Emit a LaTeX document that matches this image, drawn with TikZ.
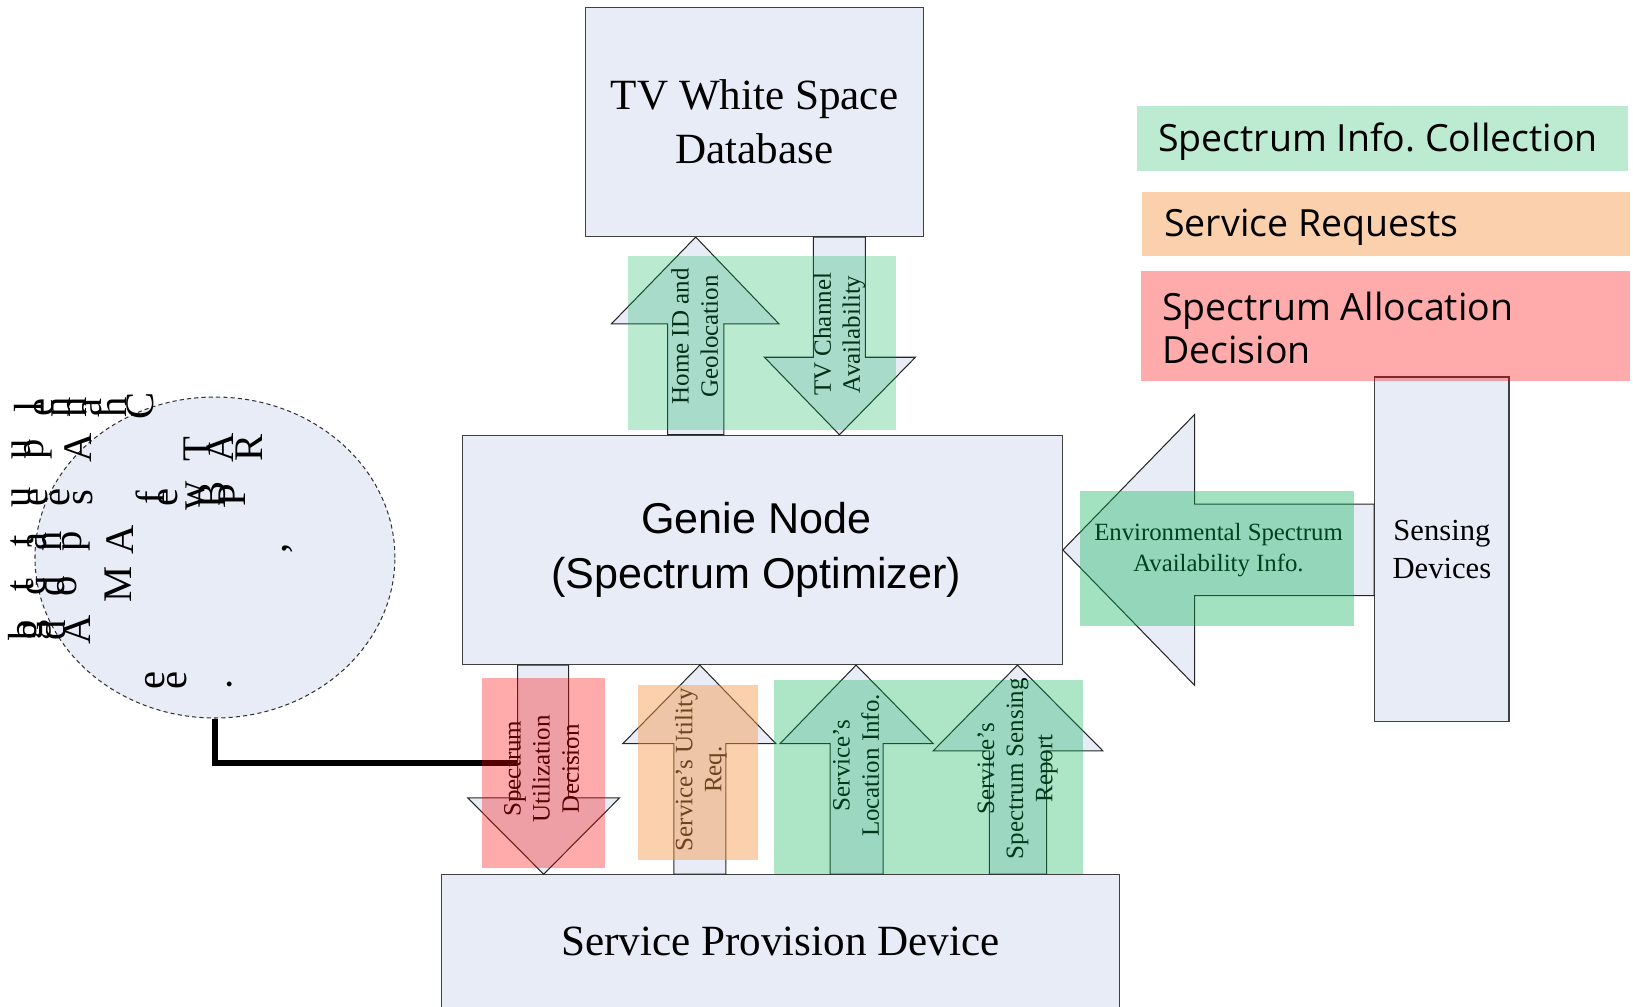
\documentclass[tikz,border=0pt]{standalone}
\usepackage{fontspec}
\setmainfont{Liberation Serif}
\newfontfamily\arialfont{Liberation Sans}
\newfontfamily\legendfont{Open Sans}
\usepackage{tikz}
\usetikzlibrary{shapes.geometric}
\definecolor{boxblue}{RGB}{231,236,247}
\definecolor{infogreen}{RGB}{0,176,80}
\definecolor{reqorange}{RGB}{247,150,70}
\definecolor{allocred}{RGB}{255,0,0}
\tikzstyle{box}=[draw=black!75, line width=0.6pt, fill=boxblue, inner sep=0pt, align=center]
\tikzstyle{blockarrow}=[draw=black!85, line width=0.5pt, fill=boxblue, line join=miter]
\tikzstyle{lbl}=[rotate=90, align=center, inner sep=0pt, font=\fontsize{12}{14}\selectfont]
\tikzstyle{glyph}=[rotate=90, inner sep=0pt, font=\fontsize{19.5}{20}\selectfont]
\tikzstyle{legendbox}=[inner sep=0pt]
\tikzstyle{legendtext}=[anchor=west, inner sep=0pt, align=left, font=\legendfont\frenchspacing\fontsize{18}{20.5}\selectfont]

\begin{document}
\begin{tikzpicture}[x=0.5pt, y=-0.5pt]
\useasboundingbox (0,0) rectangle (1568,966);
%
  \node[box, minimum width=162.5pt, minimum height=110pt, font=\fontsize{20.7}{26}\selectfont] (tvws) at (724.5,117) {TV White Space\\Database};
  \node[box, minimum width=288pt, minimum height=110pt, font=\arialfont\fontsize{20.7}{26}\selectfont] (genie) at (732,528) {Genie Node\hspace*{6pt}\\(Spectrum Optimizer)\hspace*{6pt}};
  \node[box, minimum width=325.5pt, minimum height=64pt, font=\fontsize{20.7}{26}\selectfont] (spd) at (749.5,904) {Service Provision Device};
  \node[box, minimum width=64.5pt, minimum height=165.5pt, font=\fontsize{14.7}{18.5}\selectfont] (sensing) at (1384.5,527.5) {Sensing\\Devices};
%
  \node[ellipse, draw=black!80, line width=0.5pt, dash pattern=on 2pt off 1.5pt, fill=boxblue, minimum width=172.8pt, minimum height=154.1pt, inner sep=0pt] (pref) at (206.4,535.3) {};
  \begin{scope}[scale=0.9602]
    \foreach \gx/\gy/\gc [count=\gi] in {28/407/l, 44/407/e, 61/407/n, 77/407/n, 92/407/a, 112/407/h, 140/406/C,
        21/449/u, 38/449/p, 78/448/A, 197/449/T, 220/448/A, 249/448/R,
        21/497/u, 38/497/e, 60/497/e, 83/498/s, 150/498/f, 168/497/e, 195/496/w, 212/495/B, 232/495/P,
        22/541/t, 37/541/a, 52/541/n, 76/541/p, 120/540/A,
        22/586/t, 36/586/c, 51/586/d, 67/586/o, 118/584/M,
        23/630/b, 36/630/g, 52/630/d, 77/630/A,
        155/680/e, 177/680/e, 230/684/.}
      \node[glyph] (g\gi) at (\gx,\gy) {\gc};
    \node[glyph] (gcomma) at (288,548) {,};
  \end{scope}
%
  \coordinate (sudin) at (497,732.6);
  \draw[line width=2.9pt] (pref.south) |- (sudin);
%
  % database <-> genie
  \draw[blockarrow] (668,0 |- tvws.south) -- (748,311) -- (695,311) -- (695,0 |- genie.north)
    -- (641,0 |- genie.north) -- (641,311) -- (587,311) -- cycle;
  \draw[blockarrow] (781,0 |- tvws.south) -- (831,0 |- tvws.south) -- (831,343) -- (879,343)
    -- (806,0 |- genie.north) -- (734,343) -- (781,343) -- cycle;
  % sensing -> genie
  \draw[blockarrow] (genie.east |- 0,528) -- (1147,398) -- (1147,484) -- (sensing.west |- 0,484)
    -- (sensing.west |- 0,572) -- (1147,572) -- (1147,658) -- cycle;
  % genie <-> service provision device
  \draw[blockarrow] (497,0 |- genie.south) -- (546,0 |- genie.south) -- (546,766) -- (595,766)
    -- (522,0 |- spd.north) -- (449,766) -- (497,766) -- cycle;
  \draw[blockarrow] (672,0 |- genie.south) -- (745,714) -- (697,714) -- (697,0 |- spd.north)
    -- (647,0 |- spd.north) -- (647,714) -- (598,714) -- cycle;
  \draw[blockarrow] (822,0 |- genie.south) -- (896,714) -- (848,714) -- (848,0 |- spd.north)
    -- (797,0 |- spd.north) -- (797,714) -- (749,714) -- cycle;
  \draw[blockarrow] (977,0 |- genie.south) -- (1059,721) -- (1005,721) -- (1005,0 |- spd.north)
    -- (950,0 |- spd.north) -- (950,721) -- (896,721) -- cycle;
%
  \node[lbl] (homelbl) at (667,323) {Home ID and\\Geolocation};
  \node[lbl] (tvlbl) at (806,321) {TV Channel\\Availability};
  \node[lbl] (sudlbl) at (520,738) {Spectrum\\Utilization\\Decision};
  \node[lbl] (utillbl) at (673,739) {Service’s Utility\\Req.};
  \node[lbl] (loclbl) at (822,735) {Service’s\\Location Info.};
  \node[lbl] (senselbl) at (977,738) {Service’s\\Spectrum Sensing\\Report};
  \node[align=center, inner sep=0pt, font=\fontsize{11.9}{15}\selectfont] (envlbl) at (1170,528) {Environmental Spectrum\\Availability Info.};
%
  % tinted groups
  \fill[infogreen, fill opacity=0.27] (603,246) rectangle (860,413);
  \fill[infogreen, fill opacity=0.36] (1037,471) rectangle (1300,601);
  \fill[allocred, fill opacity=0.33] (463,651) rectangle (581,833);
  \fill[reqorange, fill opacity=0.45] (613,658) rectangle (728,826);
  \fill[infogreen, fill opacity=0.32] (743,653) rectangle (1040,839);
%
  \node[legendbox, fill=infogreen, fill opacity=0.26, minimum width=235.5pt, minimum height=31pt] (leginfo) at (1327.5,133) {};
  \node[legendbox, fill=reqorange, fill opacity=0.45, minimum width=234pt, minimum height=31pt] (legreq) at (1331,215) {};
  \node[legendbox, fill=allocred, fill opacity=0.33, minimum width=234.5pt, minimum height=53pt] (legalloc) at (1330.5,313) {};
  \node[legendtext] (infotxt) at ([xshift=10pt, yshift=-1.5pt]leginfo.west) {Spectrum Info. Collection};
  \node[legendtext] (reqtxt) at ([xshift=10.5pt, yshift=-1.5pt]legreq.west) {Service Requests};
  \node[legendtext] (alloctxt) at ([xshift=10pt, yshift=-1pt]legalloc.west) {Spectrum Allocation\\Decision};
%
\end{tikzpicture}
\end{document}
